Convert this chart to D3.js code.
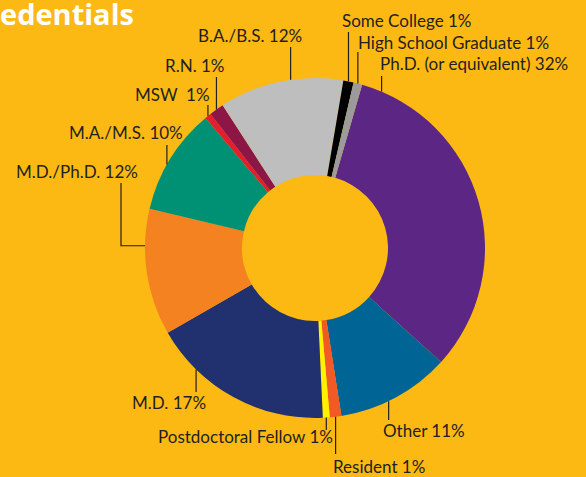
<!DOCTYPE html>
<html>
<head>
<meta charset="utf-8">
<script src="https://cdn.jsdelivr.net/npm/d3@7"></script>
<style>
  html, body { margin: 0; padding: 0; background: #FDB913; }
  svg { display: block; }
  .label { font-family: Lato, "Open Sans", sans-serif; font-size: 17px; fill: #231f20; }
  .title { font-family: "Open Sans", Lato, sans-serif; font-size: 29px; font-weight: 700; fill: #ffffff; }
</style>
</head>
<body>
<svg id="credentials" width="586" height="477"></svg>
<script>
// slices in clockwise order, starting with Ph.D.
var categories = ["Ph.D. (or equivalent)", "Other", "Resident", "Postdoctoral Fellow", "M.D.",
                  "M.D./Ph.D.", "M.A./M.S.", "MSW", "R.N.", "B.A./B.S.", "Some College", "High School Graduate"];
// shares
var shares = [32.2, 10.8, 1.1, 0.65, 17.4, 12.0, 10.15, 0.6, 1.4, 11.8, 0.97, 0.83];
// percentages as printed on the labels
var printed = ["32%", "11%", "1%", "1%", "17%", "12%", "10%", "1%", "1%", "12%", "1%", "1%"];
var colors = ["#5C2684", "#006494", "#F15A24", "#FFF200", "#21316F",
              "#F58220", "#009174", "#E21E2F", "#8C1746", "#BEBEBE", "#000000", "#9B9B9B"];
// the visible part of the page heading
var heading = "edentials"

var center = {x: 315, y: 248}
var radius = {outer: 170, inner: 73}
var startDeg = 16.1

// label placement: text start (tx, ty), where on the slice the leader leaves (f), where it ends (ly)
var labelLayout = [
    {tx: 380, ty: 70,  f: 0.06, ly: 76},
    {tx: 383, ty: 437, f: 0.57, ly: 420},
    {tx: 333, ty: 473, f: 0.5,  ly: 454},
    {tx: 158, ty: 443, f: 0.5,  ly: 430},
    {tx: 132, ty: 409, f: 0.75, ly: 392},
    {tx: 16,  ty: 178, f: 0.71, ly: 183, elbow: 121},
    {tx: 69,  ty: 139, f: 0.44, ly: 145},
    {tx: 135, ty: 101, f: 0.5,  ly: 105, gap: "  "},
    {tx: 165, ty: 72,  f: 0.5,  ly: 77},
    {tx: 198, ty: 42,  f: 0.58, ly: 47},
    {tx: 342, ty: 27,  f: 0.5,  ly: 32},
    {tx: 358, ty: 49,  f: 0.5,  ly: 52}
]

var drawTitle = function(svg) {
    svg.append("text")
        .attr("class", "title")
        .attr("x", 0)
        .attr("y", 25)
        .text(heading);
}

var drawDonut = function(target, arcs) {
    var arc = d3.arc()
        .innerRadius(radius.inner)
        .outerRadius(radius.outer);

    target.selectAll("path.slice")
        .data(arcs)
        .enter()
        .append("path")
            .attr("class", "slice")
            .attr("fill", function(d, i) { return colors[i]; })
            .attr("d", arc)
        .append("title")
            .text(function(d, i) { return categories[i] + " " + printed[i]; });
}

var drawLabels = function(svg, arcs) {
    var lines = svg.append("g")
    var texts = svg.append("g")

    arcs.forEach(function(d, i) {
        var lay = labelLayout[i]
        var a = d.startAngle + lay.f * (d.endAngle - d.startAngle)
        var px = center.x + radius.outer * Math.sin(a)
        var py = center.y - radius.outer * Math.cos(a)
        var pts
        if (lay.elbow) {
            pts = [[px, py], [lay.elbow, py], [lay.elbow, lay.ly]]
        } else {
            pts = [[px, py], [px, lay.ly]]
        }
        lines.append("path")
            .attr("d", d3.line()(pts))
            .attr("fill", "none")
            .attr("stroke", "#231f20")
            .attr("stroke-width", 1.2);

        texts.append("text")
            .attr("class", "label")
            .attr("x", lay.tx)
            .attr("y", lay.ty)
            .attr("xml:space", "preserve")
            .text(categories[i] + (lay.gap || " ") + printed[i]);
    });
}

var initGraph = function() {
    var svg = d3.select("#credentials")

    var pie = d3.pie()
        .sort(null)
        .value(function(d) { return d; })
        .startAngle(startDeg * Math.PI / 180)
        .endAngle(startDeg * Math.PI / 180 + 2 * Math.PI)
    var arcs = pie(shares)

    var target = svg.append("g")
        .attr("transform", "translate(" + center.x + "," + center.y + ")");

    drawDonut(target, arcs)
    drawLabels(svg, arcs)
    drawTitle(svg)
}

initGraph()
</script>
</body>
</html>
